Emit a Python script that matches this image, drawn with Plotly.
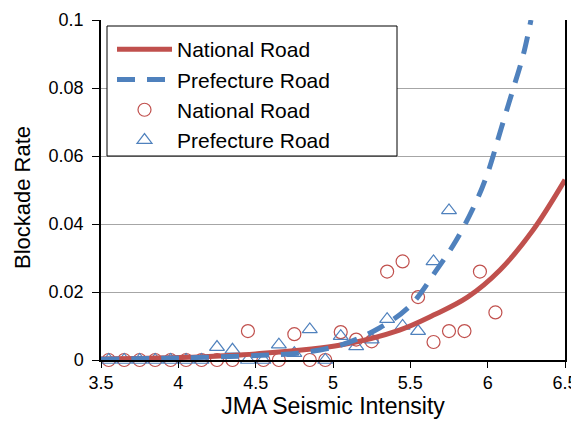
import plotly.graph_objects as go

# Observed blockade rates by JMA seismic intensity bin
national_x = [3.55, 3.65, 3.75, 3.85, 3.95, 4.05, 4.15, 4.25, 4.35, 4.45, 4.55, 4.65, 4.75,
              4.85, 4.95, 5.05, 5.15, 5.25, 5.35, 5.45, 5.55, 5.65, 5.75, 5.85, 5.95, 6.05]
national_rate = [0, 0, 0, 0, 0, 0, 0, 0, 0, 0.0085, 0, 0, 0.0076,
                 0, 0, 0.0082, 0.006, 0.0055, 0.026, 0.029, 0.0185, 0.0053, 0.0085, 0.0085, 0.026, 0.014]

prefecture_x = [3.55, 3.65, 3.75, 3.85, 3.95, 4.05, 4.15, 4.25, 4.35, 4.45, 4.55, 4.65,
                4.75, 4.85, 4.95, 5.05, 5.15, 5.25, 5.35, 5.45, 5.55, 5.65, 5.75]
prefecture_rate = [0, 0, 0, 0, 0, 0, 0, 0.0038, 0.003, 0, 0, 0.0045,
                   0.002, 0.009, 0, 0.007, 0.004, 0.006, 0.012, 0.01, 0.0085, 0.029, 0.044]

# Fitted curves
national_fit_x = [3.5, 4.0, 4.4, 4.5, 5.05, 5.43, 5.65, 5.87, 6.08, 6.29, 6.5]
national_fit_y = [0.0003, 0.0007, 0.0015, 0.0018, 0.0044, 0.0088, 0.0132, 0.0185, 0.0265, 0.038, 0.053]

prefecture_fit_x = [3.5, 4.0, 4.5, 4.77, 5.05, 5.3, 5.5, 5.67, 5.79, 5.92, 6.0, 6.09, 6.16, 6.23, 6.28]
prefecture_fit_y = [0.0002, 0.0006, 0.0013, 0.002, 0.0044, 0.0094, 0.016, 0.0265, 0.0347, 0.046,
                    0.055, 0.0685, 0.079, 0.0897, 0.1]

x_ticks = [3.5, 4, 4.5, 5, 5.5, 6, 6.5]
x_tick_labels = ["3.5", "4", "4.5", "5", "5.5", "6", "6.5"]
y_ticks = [0, 0.02, 0.04, 0.06, 0.08, 0.1]
y_tick_labels = ["0", "0.02", "0.04", "0.06", "0.08", "0.1"]

RED = "#C0504D"
BLUE = "#4F81BD"
FONT = "Liberation Sans, Arial, sans-serif"

fig = go.Figure()

fig.add_trace(go.Scatter(
    x=national_x, y=national_rate, mode="markers", name="National Road",
    marker=dict(symbol="circle-open", size=13, color=RED, line=dict(width=1.2, color=RED)),
    cliponaxis=False, legendrank=3))
fig.add_trace(go.Scatter(
    x=prefecture_x, y=prefecture_rate, mode="markers", name="Prefecture Road",
    marker=dict(symbol="triangle-up-open", size=13, color=BLUE, line=dict(width=1.2, color=BLUE)),
    cliponaxis=False, legendrank=4))
fig.add_trace(go.Scatter(
    x=national_fit_x, y=national_fit_y, mode="lines", name="National Road",
    line=dict(color=RED, width=5, shape="spline"), legendrank=1))
fig.add_trace(go.Scatter(
    x=prefecture_fit_x, y=prefecture_fit_y, mode="lines", name="Prefecture Road",
    line=dict(color=BLUE, width=5, shape="spline", dash="18px,12px"), legendrank=2))

# page body adds an 8px offset, so the figure is laid out 8px up/left
W, H = 579, 421
L, T = 93, 12
pw, ph = 464, 340
R = W - L - pw
B = H - T - ph

def px_x(px):
    return (px - 101) / pw

def px_y(py):
    return (360 - py) / ph

fig.add_shape(type="rect", xref="paper", yref="paper",
              x0=px_x(107), x1=px_x(397), y0=px_y(156), y1=px_y(26),
              fillcolor="white", line=dict(color="black", width=1), layer="above")

fig.add_annotation(text="Blockade Rate", xref="paper", yref="paper",
                   x=px_x(22), y=px_y(198), xanchor="center", yanchor="middle",
                   textangle=-90, showarrow=False,
                   font=dict(size=22, family=FONT, color="black"))

fig.update_layout(
    width=W, height=H,
    margin=dict(l=L, r=R, t=T, b=B, autoexpand=False),
    paper_bgcolor="white", plot_bgcolor="white",
    font=dict(family=FONT, color="black"),
    showlegend=True,
    legend=dict(x=px_x(112), y=px_y(29), xanchor="left", yanchor="top",
                bgcolor="rgba(0,0,0,0)", borderwidth=0,
                font=dict(size=21, family=FONT, color="black"),
                itemwidth=55, tracegroupgap=0),
    xaxis=dict(range=[3.5, 6.5], tickvals=x_ticks, ticktext=x_tick_labels,
               showgrid=False, zeroline=False, showline=True, linecolor="black", linewidth=1.5,
               ticks="outside", ticklen=6, tickcolor="black",
               tickfont=dict(size=18, family=FONT),
               title=dict(text="JMA Seismic Intensity", font=dict(size=23, family=FONT), standoff=6)),
    yaxis=dict(range=[0, 0.1], tickvals=y_ticks, ticktext=y_tick_labels,
               showgrid=True, gridcolor="#A6A6A6", gridwidth=1.2, zeroline=False,
               showline=True, linecolor="black", linewidth=1.5, mirror=True,
               ticks="outside", ticklen=7, tickcolor="black", ticklabelstandoff=5,
               tickfont=dict(size=18, family=FONT)),
)

fig.write_html("out.html")
